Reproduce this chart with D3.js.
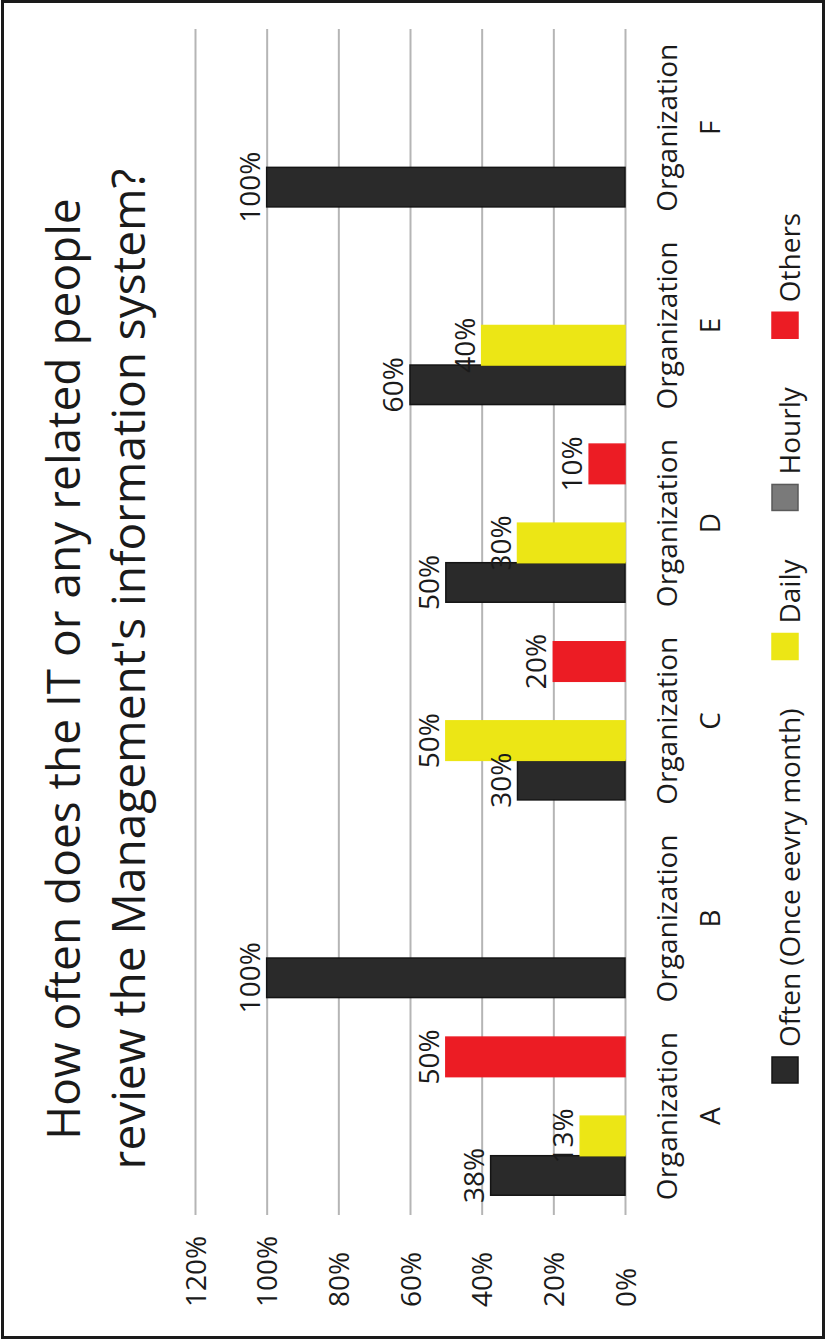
<!DOCTYPE html>
<html>
<head>
<meta charset="utf-8">
<script src="https://cdn.jsdelivr.net/npm/d3@7"></script>
<style>
  html, body { margin: 0; padding: 0; background: #fff; }
  svg { display: block; }
  text { font-family: "Open Sans", "Noto Sans", sans-serif; fill: #1a1a1a; }
</style>
</head>
<body>
<svg id="chart" width="827" height="1340"></svg>
<script>
// ---- data ----
const titleLines = ["How often does the IT or any related people", "review the Management's information system?"];
const categories = ["A", "B", "C", "D", "E", "F"];
const categoryPrefix = "Organization";
const seriesNames = ["Often (Once eevry month)", "Daily", "Hourly", "Others"];
const seriesColors = ["#2a2a2a", "#ece615", "#7a7a7a", "#ec1c24"];
const seriesStrokes = ["#141414", "#ece615", "#5a5a5a", "#ec1c24"];
const oftenValues  = [0.375, 1.0, 0.30, 0.50, 0.60, 1.0];
const dailyValues  = [0.125, 0,   0.50, 0.30, 0.40, 0];
const hourlyValues = [0,     0,   0,    0,    0,    0];
const othersValues = [0.50,  0,   0.20, 0.10, 0,    0];
const tickValues = [0, 0.2, 0.4, 0.6, 0.8, 1.0, 1.2];

const seriesValues = [oftenValues, dailyValues, hourlyValues, othersValues];

// ---- layout (unrotated frame: 1340 wide, 827 tall) ----
const W = 1340, H = 827;
const plotLeft = 125, plotRight = 1311, plotTop = 195, plotBottom = 625;

const svg = d3.select("#chart");
svg.append("rect").attr("x", 2.5).attr("y", 1.5).attr("width", 821).attr("height", 1336)
  .attr("fill", "#fff").attr("stroke", "#1a1a1a").attr("stroke-width", 3);

const g = svg.append("g").attr("transform", `translate(0,${W}) rotate(-90)`);

const x = d3.scaleBand().domain(categories).range([plotLeft, plotRight]).paddingInner(0.2).paddingOuter(0.1);
const xs = d3.scaleBand().domain(d3.range(seriesNames.length)).range([0, x.bandwidth()]);
const y = d3.scaleLinear().domain([0, 1.2]).range([plotBottom, plotTop]);
const fmt = d3.format(".0%");

// value axis with gridlines
const yAxis = g.append("g").attr("transform", `translate(${plotLeft},0)`)
  .call(d3.axisLeft(y).tickValues(tickValues).tickFormat(fmt).tickSize(-(plotRight - plotLeft)));
yAxis.select(".domain").remove();
yAxis.selectAll(".tick line").attr("stroke", "#b5b5b5").attr("stroke-width", 2);
yAxis.selectAll(".tick text")
  .attr("x", 33 - plotLeft).attr("text-anchor", "start").attr("dy", "0.36em")
  .style("font-size", "28px").style("font-family", "'Open Sans', sans-serif").attr("fill", "#1a1a1a");

// title
g.append("g").selectAll("text").data(titleLines).join("text")
  .attr("x", W / 2 + 1).attr("y", (d, i) => 80 + i * 65)
  .attr("text-anchor", "middle").style("font-size", "46px").text(d => d);

// bars
const rows = categories.map((c, ci) => seriesValues.map((vals, si) => ({ c, si, v: vals[ci] })));
const groups = g.append("g").selectAll("g").data(rows).join("g")
  .attr("transform", (d, i) => `translate(${x(categories[i])},0)`);

groups.selectAll("rect").data(d => d.filter(e => e.v > 0)).join("rect")
  .attr("x", d => xs(d.si)).attr("width", xs.bandwidth())
  .attr("y", d => y(d.v)).attr("height", d => y(0) - y(d.v))
  .attr("fill", d => seriesColors[d.si])
  .attr("stroke", d => seriesStrokes[d.si]).attr("stroke-width", 1.5);

groups.selectAll("text").data(d => d.filter(e => e.v > 0)).join("text")
  .attr("x", d => xs(d.si) + xs.bandwidth() / 2).attr("y", d => y(d.v) - 7)
  .attr("text-anchor", "middle").style("font-size", "28px")
  .text(d => fmt(d.v));

// category labels
const xAxis = g.append("g").attr("transform", `translate(0,${plotBottom})`)
  .call(d3.axisBottom(x).tickSize(0));
xAxis.select(".domain").remove();
xAxis.selectAll(".tick text").each(function(d) {
  const t = d3.select(this);
  t.text(null).attr("y", 0).attr("dy", null)
    .style("font-size", "28px").style("font-family", "'Open Sans', sans-serif").attr("fill", "#1a1a1a");
  t.append("tspan").attr("x", 0).attr("y", 677 - plotBottom).text(categoryPrefix);
  t.append("tspan").attr("x", 0).attr("y", 720 - plotBottom).text(d);
});

// legend
const legend = g.append("g").attr("transform", "translate(0,772)");
let lx = 257;
seriesNames.forEach((name, i) => {
  const item = legend.append("g").attr("transform", `translate(${lx},0)`);
  item.append("rect").attr("width", 26).attr("height", 26)
    .attr("fill", seriesColors[i]).attr("stroke", seriesStrokes[i]).attr("stroke-width", 1.5);
  const t = item.append("text").attr("x", 36).attr("y", 28).style("font-size", "28px").text(name);
  lx += 36 + t.node().getComputedTextLength() + 49;
});
</script>
</body>
</html>
